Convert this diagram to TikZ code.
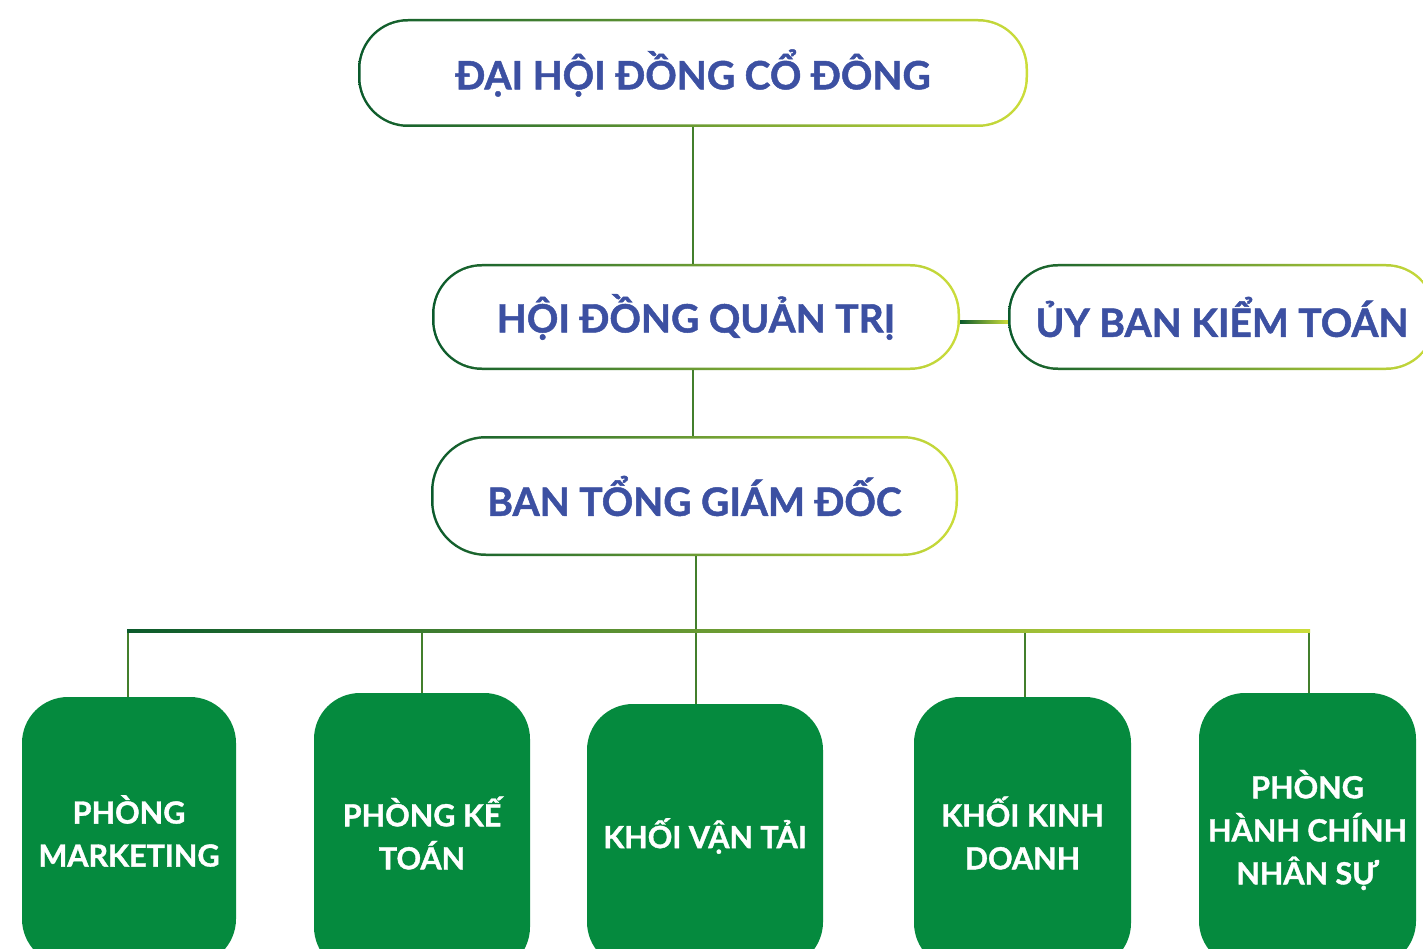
\documentclass[tikz,border=0pt]{standalone}
\usepackage{fontspec}
\setmainfont{Lato}[BoldFeatures={FakeBold=1.2}]
\definecolor{dkg}{HTML}{0B5A2C}
\definecolor{ltg}{HTML}{CCDD3A}
\definecolor{tblue}{HTML}{3C50A2}
\definecolor{boxg}{HTML}{058A3E}
\definecolor{lineg}{HTML}{437F2C}
\begin{document}
\begin{tikzpicture}[x=1pt,y=-1pt,
  pill/.style={rectangle, rounded corners=#1, left color=dkg, right color=ltg, inner sep=0pt},
  pillin/.style={rectangle, rounded corners=#1, fill=white, inner sep=0pt, text=tblue, font=\bfseries\fontsize{39}{44}\selectfont},
  dept/.style={rectangle, rounded corners=46pt, fill=boxg, text=white, align=center, inner sep=0pt, font=\bfseries\fontsize{30.5}{43}\selectfont},
  conn/.style={lineg, line width=2pt},
]
\useasboundingbox[fill=white] (0,0) rectangle (1423,949);
\begin{scope}
\clip (0,0) rectangle (1423,949);
% top boxes
\node[pill=50pt, minimum width=670pt, minimum height=108pt] (dh) at (693,73) {};
\node[pillin=47.5pt, minimum width=665pt, minimum height=103pt] (dhin) at (dh) {ĐẠI HỘI ĐỒNG CỔ ĐÔNG};
\node[pill=50pt, minimum width=528pt, minimum height=106pt] (hd) at (696,317) {};
\node[pillin=47.5pt, minimum width=523pt, minimum height=101pt] (hdin) at (hd) {HỘI ĐỒNG QUẢN TRỊ};
\node[pill=50pt, minimum width=428pt, minimum height=106pt] (uy) at (1222,317) {};
\node[pillin=47.5pt, minimum width=423pt, minimum height=101pt] (uyin) at (uy) {ỦY BAN KIỂM TOÁN};
\node[pill=55pt, minimum width=527pt, minimum height=120pt] (bt) at (694.5,496) {};
\node[pillin=52.5pt, minimum width=522pt, minimum height=115pt] (btin) at (bt) {BAN TỔNG GIÁM ĐỐC};
% departments
\node[dept, minimum width=214pt, minimum height=268pt] (m1) at (129,831) {PHÒNG\\MARKETING};
\node[dept, minimum width=216pt, minimum height=280pt] (m2) at (422,833) {PHÒNG KẾ\\TOÁN};
\node[dept, minimum width=236pt, minimum height=264pt] (m3) at (705,836) {KHỐI VẬN TẢI};
\node[dept, minimum width=217pt, minimum height=272pt] (m4) at (1022.5,833) {KHỐI KINH\\DOANH};
\node[dept, minimum width=217pt, minimum height=274pt] (m5) at (1307.5,830) {PHÒNG\\HÀNH CHÍNH\\NHÂN SỰ};
% connectors
\draw[conn] (dh.south) -- (dh.south |- hd.north);
\draw[conn] (dh.south |- hd.south) -- (dh.south |- bt.north);
\shade[left color=dkg, right color=ltg] ([yshift=-3.8pt]hd.east) rectangle ([yshift=-6.2pt]uy.west);
\coordinate (barL) at (127,631);
\coordinate (barR) at (1310,631);
\coordinate (d1) at (128,631);
\coordinate (d2) at (422,631);
\coordinate (d3) at (696,631);
\coordinate (d4) at (1025,631);
\coordinate (d5) at (1309,631);
\draw[conn] (d3 |- bt.south) -- (d3);
\draw[conn] (d1) -- (d1 |- m1.north);
\draw[conn] (d2) -- (d2 |- m2.north);
\draw[conn] (d3) -- (d3 |- m3.north);
\draw[conn] (d4) -- (d4 |- m4.north);
\draw[conn] (d5) -- (d5 |- m5.north);
\shade[left color=dkg, right color=ltg] ([yshift=1.5pt]barL) rectangle ([yshift=-1.5pt]barR);
\end{scope}
\end{tikzpicture}
\end{document}
